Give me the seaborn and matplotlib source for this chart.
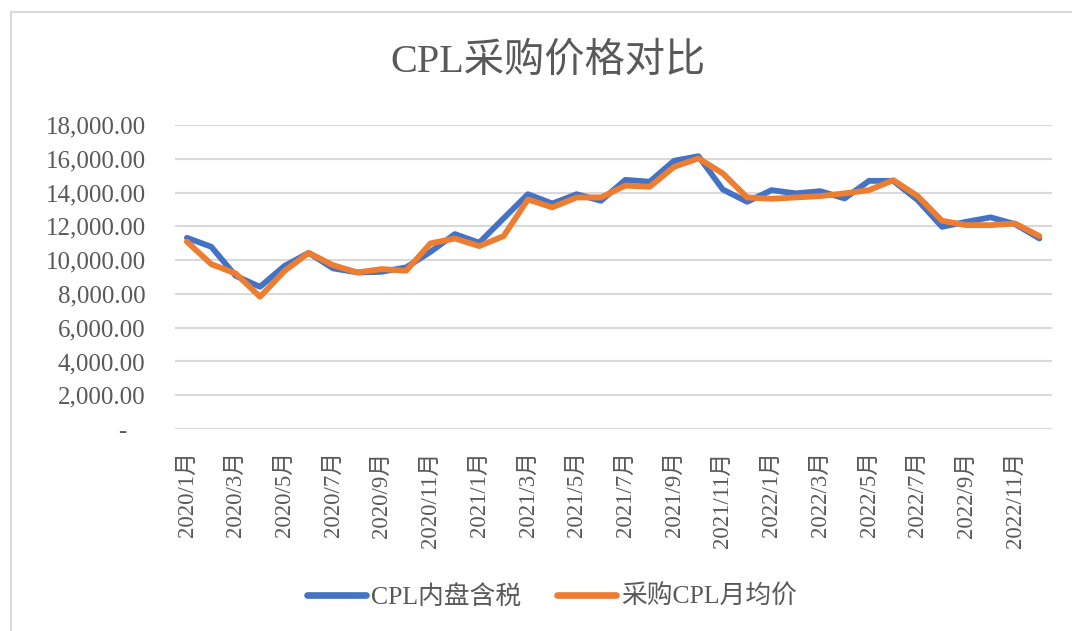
import matplotlib
matplotlib.use("Agg")
import matplotlib.pyplot as plt
import seaborn as sns
import pandas as pd
from matplotlib.patches import Rectangle
from matplotlib.ticker import FuncFormatter

months = [f"{y}/{m}月" for y in (2020, 2021, 2022) for m in range(1, 13)]
cpl_domestic = [11320, 10790, 9070, 8420, 9650, 10430, 9510, 9270, 9310, 9570, 10490, 11540,
                11030, 12470, 13900, 13350, 13900, 13510, 14750, 14640, 15880, 16150, 14180, 13450,
                14140, 13950, 14080, 13650, 14690, 14690, 13550, 11970, 12270, 12530, 12130, 11280]
cpl_purchase = [11090, 9760, 9210, 7830, 9350, 10430, 9700, 9270, 9470, 9370, 10990, 11280,
                10830, 11420, 13590, 13120, 13710, 13710, 14410, 14340, 15520, 16020, 15130, 13710,
                13630, 13710, 13790, 13950, 14140, 14730, 13790, 12330, 12070, 12070, 12170, 11420]
series_names = ["CPL内盘含税", "采购CPL月均价"]
yticks = list(range(0, 18001, 2000))

sns.set_theme(style="white")
plt.rcParams['font.family'] = ['Liberation Serif', 'Noto Sans CJK SC']

df = pd.DataFrame({
    "month": months * 2,
    "price": cpl_domestic + cpl_purchase,
    "series": [series_names[0]] * len(months) + [series_names[1]] * len(months),
})

fig = plt.figure(figsize=(10.72, 6.31), dpi=100)
ax = fig.add_axes([0.163, 0.320, 0.818, 0.482])

text_color = "#595959"
sns.lineplot(data=df, x="month", y="price", hue="series", sort=False,
             palette=["#4472C4", "#ED7D31"], linewidth=4.2, ax=ax, legend=True)
for ln in ax.lines:
    ln.set_solid_capstyle("round")
    ln.set_solid_joinstyle("round")

ax.set_xlim(-0.5, len(months) - 0.5)
ax.set_ylim(0, 18000)
ax.set_yticks(yticks)
ax.yaxis.set_major_formatter(FuncFormatter(lambda v, p: "-   " if v == 0 else f"{v:,.2f}"))
ax.grid(axis="y", color="#D9D9D9", linewidth=1.5)
ax.grid(axis="x", visible=False)
ax.set_axisbelow(True)
for s in ax.spines.values():
    s.set_visible(False)

ax.set_xticks(range(0, len(months), 2))
ax.set_xticklabels(months[::2], rotation=90, va="top", ha="center")
ax.tick_params(axis="x", length=0, pad=16, labelsize=16.5, colors=text_color)
ax.tick_params(axis="y", length=0, pad=21, labelsize=18, colors=text_color)
ax.set_xlabel("")
ax.set_ylabel("")

ax.get_legend().remove()
handles, labels = ax.get_legend_handles_labels()
leg = fig.legend(handles, labels, loc="center", bbox_to_anchor=(0.515, 0.054), ncol=2,
                 frameon=False, fontsize=18.5, handlelength=2.3, handletextpad=0.2,
                 columnspacing=1.4)
for t in leg.get_texts():
    t.set_color(text_color)
for h in leg.legend_handles:
    h.set_linewidth(4.8)
    h.set_solid_capstyle("round")

fig.text(0.511, 0.902, "CPL采购价格对比", ha="center", va="center",
         fontsize=29, color=text_color)

fig.patches.append(Rectangle((11 / 1072, -0.1), 1.2, 1 - 12 / 631 + 0.1,
                             transform=fig.transFigure, fill=False,
                             edgecolor="#D9D9D9", linewidth=1.5))

fig.savefig("out.png", dpi=100)
